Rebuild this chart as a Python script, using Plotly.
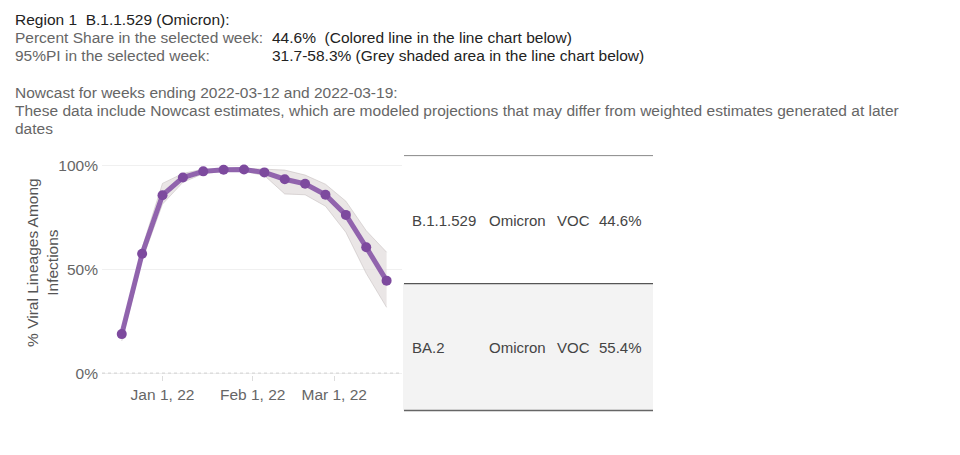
import plotly.graph_objects as go

# ---------------- data ----------------
weeks = ["2021-12-18", "2021-12-25", "2022-01-01", "2022-01-08", "2022-01-15",
         "2022-01-22", "2022-01-29", "2022-02-05", "2022-02-12", "2022-02-19",
         "2022-02-26", "2022-03-05", "2022-03-12", "2022-03-19"]
share = [18.8, 57.6, 85.8, 94.3, 97.3, 98.1, 98.2, 96.8, 93.5, 91.3, 86.0, 76.3, 60.7, 44.6]
pi_upper = [20.5, 60.5, 91.5, 96.3, 98.3, 98.8, 98.8, 98.2, 97.9, 95.5, 91.1, 82.9, 68.7, 58.3]
pi_lower = [15.5, 54.5, 81.5, 92.0, 96.2, 97.2, 97.3, 95.3, 86.4, 86.0, 80.5, 67.9, 48.1, 31.7]

x_tickvals = ["2022-01-01", "2022-02-01", "2022-03-01"]
y_tickvals = [0, 50, 100]
y_ticktext = ["0%", "50%", "100%"]

header_title = "Region 1\u00a0\u00a0B.1.1.529 (Omicron):"
header_labels = ["Percent Share in the selected week:", "95%PI in the selected week:"]
header_values = ["44.6%\u00a0\u00a0(Colored line in the line chart below)",
                 "31.7-58.3% (Grey shaded area in the line chart below)"]
nowcast_lines = ["Nowcast for weeks ending 2022-03-12 and 2022-03-19:",
                 "These data include Nowcast estimates, which are modeled projections that may differ from weighted estimates generated at later",
                 "dates"]

tbl_lineage = ["B.1.1.529", "BA.2"]
tbl_name = ["Omicron", "Omicron"]
tbl_type = ["VOC", "VOC"]
tbl_share = [44.6, 55.4]

# ---------------- layout helpers ----------------
OFF = 8                      # page body margin
W, H = 960 - 2 * OFF, 455 - 2 * OFF
FONT = "Arial, Liberation Sans, sans-serif"
def px(x):
    return (x - OFF) / W
def py(y):
    return 1 - (y - OFF) / H
def tx(x):                   # left edge of text for left-anchored annotation
    return px(x - 2)

fig = go.Figure()

fig.add_trace(go.Scatter(x=weeks, y=pi_upper, mode="lines", line=dict(width=0.8, color="rgba(195,189,189,0.7)"),
                         hoverinfo="skip", showlegend=False))
fig.add_trace(go.Scatter(x=weeks, y=pi_lower, mode="lines", line=dict(width=0.8, color="rgba(195,189,189,0.7)"),
                         fill="tonexty", fillcolor="rgba(222,217,217,0.65)",
                         hoverinfo="skip", showlegend=False))
fig.add_trace(go.Scatter(x=weeks, y=share, mode="lines+markers",
                         line=dict(width=5, color="rgba(132,82,165,0.88)"),
                         marker=dict(size=10, color="#7d4a9e"),
                         showlegend=False))

fig.update_layout(
    width=W, height=H,
    margin=dict(l=0, r=0, t=0, b=0),
    paper_bgcolor="white", plot_bgcolor="white",
    font=dict(family=FONT, size=15, color="#666"),
    xaxis=dict(type="date", domain=[px(102), px(402)],
               range=["2021-12-11 05:00", "2022-03-24 07:00"],
               tickvals=x_tickvals, tickformat="%b %-d, %y",
               showgrid=False, zeroline=False, showline=False,
               ticks="outside", ticklen=5, tickcolor="#ddd",
               tickfont=dict(size=15.5, color="#666")),
    yaxis=dict(domain=[py(380), py(160)], range=[-0.95, 103.46],
               tickvals=y_tickvals, ticktext=y_ticktext,
               ticklabelstandoff=3,
               showgrid=True, gridcolor="#f0f0f0", zeroline=False, showline=False,
               tickfont=dict(size=15.5, color="#666")),
)

# dotted baseline at 0
fig.add_shape(type="line", xref="paper", yref="y", x0=px(102), x1=px(402), y0=0, y1=0,
              line=dict(color="#d0d0d0", width=1, dash="dot"))

ann = []
# y axis title
ann.append(dict(xref="paper", yref="paper", x=px(43), y=py(266), xanchor="center", yanchor="middle",
                text="% Viral Lineages Among<br>Infections", textangle=-90, showarrow=False,
                font=dict(size=15.5, color="#555")))

# header
HS = 15.5
ann.append(dict(xref="paper", yref="paper", x=tx(15), y=py(19), xanchor="left", yanchor="middle",
                text=header_title, showarrow=False, font=dict(size=HS, color="#222")))
for i, (lab, val) in enumerate(zip(header_labels, header_values)):
    yy = 37 + 18.4 * i
    ann.append(dict(xref="paper", yref="paper", x=tx(15), y=py(yy), xanchor="left", yanchor="middle",
                    text=lab, showarrow=False, font=dict(size=HS, color="#666")))
    ann.append(dict(xref="paper", yref="paper", x=tx(272), y=py(yy), xanchor="left", yanchor="middle",
                    text=val, showarrow=False, font=dict(size=HS, color="#222")))
for i, t in enumerate(nowcast_lines):
    yy = 92.5 + 18.4 * i
    ann.append(dict(xref="paper", yref="paper", x=tx(15), y=py(yy), xanchor="left", yanchor="middle",
                    text=t, showarrow=False, font=dict(size=HS, color="#666")))

# table
shapes = []
shapes.append(dict(type="rect", xref="paper", yref="paper", x0=px(403), x1=px(653), y0=py(416), y1=py(287),
                   fillcolor="#f3f3f3", line=dict(width=0), layer="below"))
for yy, col, w in [(157, "#888", 1), (287, "#555", 1.2), (416, "#666", 1.5)]:
    shapes.append(dict(type="line", xref="paper", yref="paper", x0=px(404), x1=px(653), y0=py(yy), y1=py(yy),
                       line=dict(color=col, width=w)))
for sh in shapes:
    fig.add_shape(**sh)

row_centers = [223, 352]
for i in range(len(tbl_lineage)):
    yy = row_centers[i]
    for xx, t in [(412, tbl_lineage[i]), (489, tbl_name[i]), (557, tbl_type[i]), (599, f"{tbl_share[i]:.1f}%")]:
        ann.append(dict(xref="paper", yref="paper", x=tx(xx), y=py(yy), xanchor="left", yanchor="middle",
                        text=t, showarrow=False, font=dict(size=15, color="#444")))

fig.update_layout(annotations=ann)
fig.write_html("out.html")
